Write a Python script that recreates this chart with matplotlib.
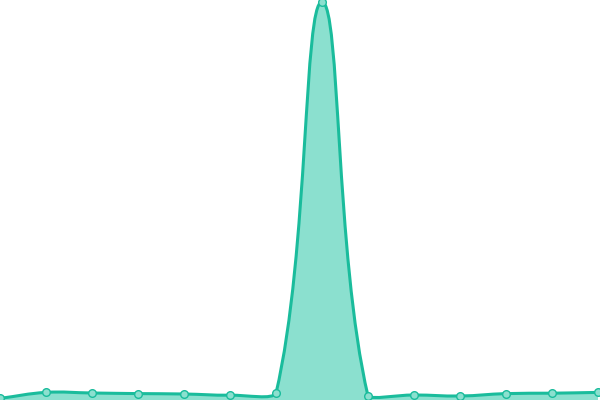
import numpy as np
import matplotlib
matplotlib.use("Agg")
import matplotlib.pyplot as plt
from matplotlib.path import Path
from matplotlib.patches import PathPatch

# valores de la serie (en % de la altura del grafico)
valores = [0.4, 1.9, 1.75, 1.6, 1.5, 1.2, 1.7, 99.5, 1.0, 1.25, 1.0, 1.6, 1.7, 1.9]
indices = list(range(len(valores)))

linea = "#1abc9c"
relleno = "#8be0cf"
tension = 0.4

fig = plt.figure(figsize=(6, 4), dpi=100)
ax = fig.add_axes([0, 0, 1, 1])
ax.set_xlim(0, 13 * 600 / 598)
ax.set_ylim(0, 100)
ax.axis("off")

# puntos en pixeles, para calcular los puntos de control como una spline con tension
pix = ax.transData.transform(np.column_stack([indices, valores]))
x0, y0 = ax.transData.transform((0, 0))
x1, y1 = ax.transData.transform((13 * 600 / 598, 100))

ctrl_prev = []
ctrl_next = []
n = len(pix)
for i in range(n):
    cur = pix[i]
    prev = pix[i - 1] if i > 0 else cur
    nxt = pix[i + 1] if i < n - 1 else cur
    d01 = np.hypot(*(cur - prev))
    d12 = np.hypot(*(nxt - cur))
    tot = d01 + d12
    s01 = d01 / tot if tot else 0
    s12 = d12 / tot if tot else 0
    cp = cur - tension * s01 * (nxt - prev)
    cn = cur + tension * s12 * (nxt - prev)
    # los puntos de control no salen del area del grafico
    cp = np.clip(cp, [x0, y0], [x1, y1])
    cn = np.clip(cn, [x0, y0], [x1, y1])
    ctrl_prev.append(cp)
    ctrl_next.append(cn)

verts = [pix[0]]
codes = [Path.MOVETO]
for i in range(n - 1):
    verts += [ctrl_next[i], ctrl_prev[i + 1], pix[i + 1]]
    codes += [Path.CURVE4] * 3

inv = ax.transData.inverted()
curva = inv.transform(np.array(verts))

area_verts = np.vstack([curva, [[indices[-1], 0], [indices[0], 0], curva[0]]])
area_codes = codes + [Path.LINETO, Path.LINETO, Path.CLOSEPOLY]
ax.add_patch(PathPatch(Path(area_verts, area_codes), facecolor=relleno,
                       edgecolor="none"))
ax.add_patch(PathPatch(Path(curva, codes), facecolor="none", edgecolor=linea,
                       linewidth=2.2, capstyle="round", joinstyle="round"))
ax.plot(indices, valores, "o", markersize=5.5, markerfacecolor=relleno,
        markeredgecolor=linea, markeredgewidth=1, zorder=3)

fig.savefig("out.png", dpi=100)
